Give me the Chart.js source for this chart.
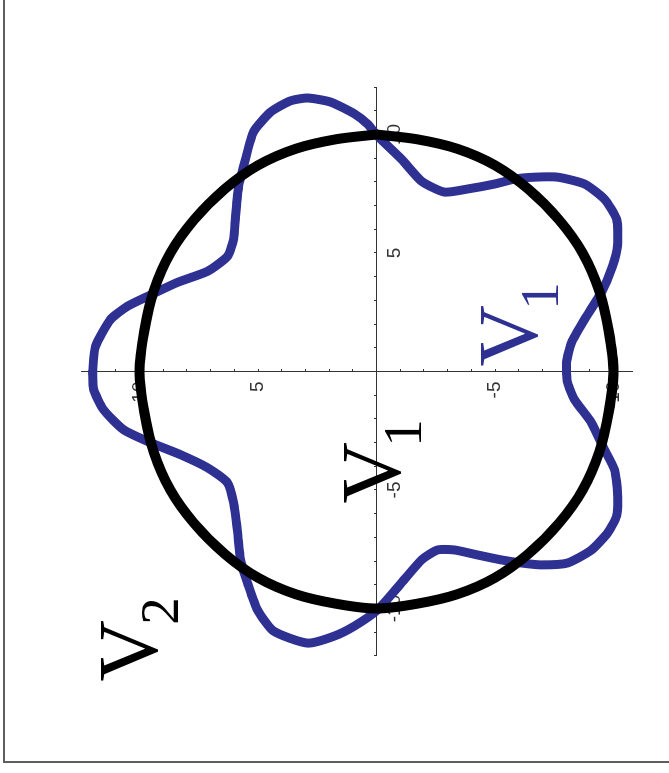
<!DOCTYPE html>
<html>
<head>
<meta charset="utf-8">
<script src="https://cdn.jsdelivr.net/npm/chart.js@4/dist/chart.umd.min.js"></script>
<style>
  html, body { margin: 0; padding: 0; background: #fff; overflow: hidden; width: 669px; height: 773px; }
  #frame { position: absolute; left: 3px; top: -10px; width: 720px; height: 773px; box-sizing: border-box;
           border-left: 2px solid #5e5e5e; border-bottom: 2px solid #5e5e5e; }
  /* the plot is laid out upright and then turned a quarter turn counter-clockwise */
  #plot { position: absolute; left: 0; top: 0; width: 773px; height: 669px;
          transform-origin: 0 0; transform: translate(0, 773px) rotate(-90deg); }
</style>
</head>
<body>
<div id="frame"></div>
<div id="plot"><canvas id="c" width="773" height="669"></canvas></div>
<script>
// Five-lobed trajectory (V1, V2) traced around the origin
const lobeX = [0.0, 1.06, 2.20, 2.75, 3.17, 3.76, 4.23, 4.86, 5.58, 6.55, 7.82, 8.96, 10.11,
  10.95, 11.42, 11.54, 11.37, 10.87, 10.44, 9.94, 8.96, 8.03, 7.57, 7.70, 7.91, 8.12, 8.20, 8.20,
  7.91, 7.27, 6.43, 5.29, 4.44, 3.34, 2.20, 1.23, 0.38,
  -0.47, -1.18, -2.16, -3.30, -4.14, -5.12, -6.09, -6.81, -7.53, -8.08, -8.16, -8.08, -7.95, -7.74,
  -7.53, -7.53, -7.95, -8.92, -10.06, -10.74, -11.16, -11.46, -10.95, -10.06, -8.92, -7.95, -6.81,
  -5.54, -4.69, -4.06, -3.51, -3.00, -2.45, -1.61, -0.76, 0.0];
const lobeY = [11.98, 11.86, 11.22, 10.51, 9.66, 8.40, 7.13, 6.29, 6.03, 5.95, 5.82, 5.53, 5.19,
  4.47, 3.63, 2.91, 1.94, 0.93, 0.38, -0.04, -1.05, -1.90, -2.86, -3.84, -4.98, -5.82, -6.67, -7.64,
  -8.78, -9.62, -10.13, -10.17, -9.96, -9.49, -8.78, -8.23, -8.02,
  -8.06, -8.35, -9.07, -9.62, -10.04, -10.17, -10.13, -9.75, -9.07, -8.06, -6.96, -6.12, -5.27, -4.26,
  -3.29, -2.57, -1.90, -1.05, -0.04, 0.93, 1.77, 2.91, 4.35, 5.02, 5.44, 5.74, 5.86,
  6.03, 6.29, 7.13, 8.27, 9.54, 10.68, 11.52, 11.94, 11.98];

// Reference circle of radius 10
const ringX = [10.0, 9.8, 9.4, 8.7, 7.7, 6.4, 5.0, 3.4, 1.7, 0.0, -1.7, -3.4, -5.0, -6.4, -7.7, -8.7, -9.4, -9.8,
  -10.0, -9.8, -9.4, -8.7, -7.7, -6.4, -5.0, -3.4, -1.7, 0.0, 1.7, 3.4, 5.0, 6.4, 7.7, 8.7, 9.4, 9.8, 10.0];
const ringY = [0.0, 1.7, 3.4, 5.0, 6.4, 7.7, 8.7, 9.4, 9.8, 10.0, 9.8, 9.4, 8.7, 7.7, 6.4, 5.0, 3.4, 1.7,
  0.0, -1.7, -3.4, -5.0, -6.4, -7.7, -8.7, -9.4, -9.8, -10.0, -9.8, -9.4, -8.7, -7.7, -6.4, -5.0, -3.4, -1.7, 0.0];

// Axis ticks that carry a number
const labelledTicks = [-10, -5, 5, 10];

// Axis names: letter, subscript, anchor in data units, colour
const axisNames = [
  { main: 'V', sub: '2', at: [-13.02, 9.26], color: '#000000' },
  { main: 'V', sub: '1', at: [-5.51, -0.99], color: '#000000' },
  { main: 'V', sub: '1', at: [0.27, -6.77], color: '#2e3192' }
];

const toPoints = (xs, ys) => xs.map((x, i) => ({ x: x, y: ys[i] }));

const namePlugin = {
  id: 'axisNames',
  afterDraw(chart) {
    const ctx = chart.ctx;
    const sx = chart.scales.x, sy = chart.scales.y;
    ctx.save();
    ctx.textAlign = 'left';
    ctx.textBaseline = 'alphabetic';
    axisNames.forEach(n => {
      const px = sx.getPixelForValue(n.at[0]);
      const py = sy.getPixelForValue(n.at[1]);
      ctx.fillStyle = n.color;
      ctx.font = '85px "Liberation Serif"';
      ctx.fillText(n.main, px - 1.4, py);
      const w = ctx.measureText(n.main).width;
      ctx.font = '55px "Liberation Serif"';
      ctx.fillText(n.sub, px + w - 6, py + 21);
    });
    ctx.restore();
  }
};

const tickFont = { family: '"Liberation Sans", Arial, sans-serif', size: 19 };
const tickLabel = v => labelledTicks.includes(v) ? String(v) : '';

new Chart(document.getElementById('c'), {
  type: 'scatter',
  data: {
    datasets: [
      {
        data: toPoints(ringX, ringY),
        showLine: true, borderColor: '#000000', borderWidth: 10, pointRadius: 0, tension: 0.3,
        borderJoinStyle: 'round', borderCapStyle: 'round', fill: false
      },
      {
        data: toPoints(lobeX, lobeY),
        showLine: true, borderColor: '#2e3192', borderWidth: 9, pointRadius: 0, tension: 0.2,
        borderJoinStyle: 'round', borderCapStyle: 'round', fill: false
      }
    ]
  },
  options: {
    responsive: false,
    animation: false,
    devicePixelRatio: 1,
    layout: { padding: { left: 117.1, right: 87.1, top: 81, bottom: 37 } },
    plugins: { legend: { display: false }, tooltip: { enabled: false } },
    elements: { line: { capBezierPoints: false } },
    scales: {
      x: {
        type: 'linear', min: -12, max: 12, position: { y: 0 },
        grid: { drawOnChartArea: false, tickLength: -3, tickColor: '#333', tickWidth: 1 },
        border: { color: '#333', width: 1 },
        ticks: { stepSize: 1, autoSkip: false, includeBounds: false, minRotation: 0, maxRotation: 0,
                 padding: 10, font: tickFont, color: '#333', callback: tickLabel }
      },
      y: {
        type: 'linear', min: -10.78, max: 12.47, position: 'center',
        grid: { drawOnChartArea: false, tickLength: -3, tickColor: '#333', tickWidth: 1 },
        border: { color: '#333', width: 1 },
        ticks: { stepSize: 1, autoSkip: false, includeBounds: false,
                 padding: 13, font: tickFont, color: '#333', callback: tickLabel }
      }
    }
  },
  plugins: [namePlugin]
});
</script>
</body>
</html>
